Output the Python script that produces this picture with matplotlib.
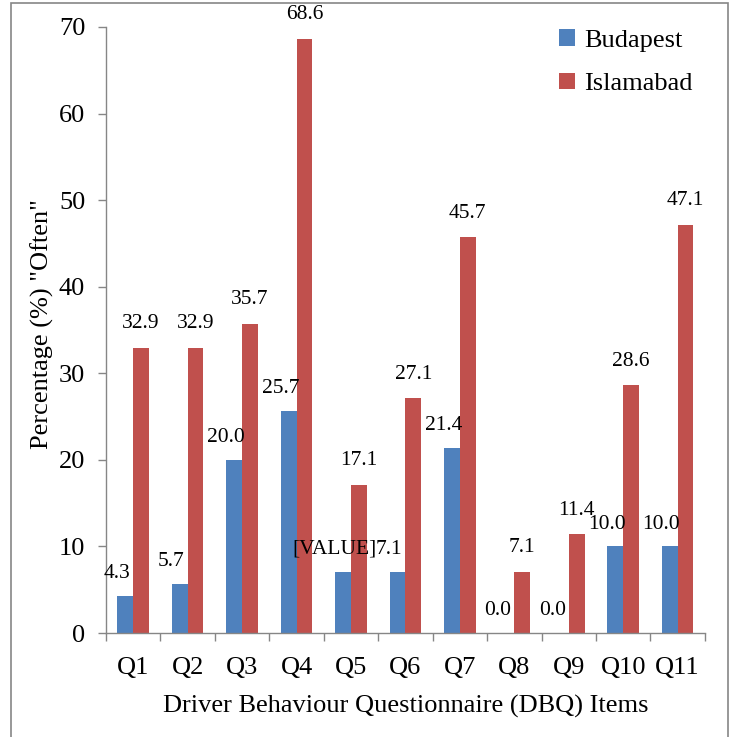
import numpy as np
import matplotlib.pyplot as plt
from matplotlib.patches import Rectangle

# data
items = ["Q1", "Q2", "Q3", "Q4", "Q5", "Q6", "Q7", "Q8", "Q9", "Q10", "Q11"]
budapest = [4.3, 5.7, 20.0, 25.7, 7.1, 7.1, 21.4, 0.0, 0.0, 10.0, 10.0]
islamabad = [32.9, 32.9, 35.7, 68.6, 17.1, 27.1, 45.7, 7.1, 11.4, 28.6, 47.1]
budapest_labels = ["4.3", "5.7", "20.0", "25.7", "[VALUE]", "7.1", "21.4", "0.0", "0.0", "10.0", "10.0"]
islamabad_labels = [f"{v:.1f}" for v in islamabad]

plt.rcParams['font.family'] = ['Liberation Serif', 'DejaVu Serif']

blue = '#4F81BD'
red = '#C0504D'
grey = '#868686'

fig = plt.figure(figsize=(7.35, 7.37), dpi=100)
ax = fig.add_axes([0.1442, 0.1411, 0.8148, 0.8223])

x = np.arange(len(items))
w = 0.29
ax.bar(x - w / 2, budapest, w, color=blue, label='Budapest')
ax.bar(x + w / 2, islamabad, w, color=red, label='Islamabad')

# data labels (Excel style, blue ones nudged left)
for xi, v, t in zip(x, budapest, budapest_labels):
    ax.annotate(t, (xi - w / 2, v), xytext=(-6, 16), textcoords='offset points',
                ha='center', va='center', fontsize=15.5)
for xi, v, t in zip(x, islamabad, islamabad_labels):
    ax.annotate(t, (xi + w / 2, v), xytext=(0, 17.5), textcoords='offset points',
                ha='center', va='center', fontsize=15.5)

ax.set_xlim(-0.5, len(items) - 0.5)
ax.set_ylim(0, 70)
ax.set_yticks(range(0, 71, 10))
ax.set_xticks(x)
ax.set_xticklabels(items)
ax.set_xticks(np.arange(-0.5, len(items)), minor=True)
ax.tick_params(axis='x', which='major', length=0, labelsize=19, pad=17)
ax.tick_params(axis='x', which='minor', length=6, color=grey, width=1)
ax.tick_params(axis='y', length=6, color=grey, width=1, labelsize=19, pad=9)

for s in ['top', 'right']:
    ax.spines[s].set_visible(False)
for s in ['left', 'bottom']:
    ax.spines[s].set_color(grey)
    ax.spines[s].set_linewidth(1)

ax.set_xlabel('Driver Behaviour Questionnaire (DBQ) Items', fontsize=19, labelpad=12)
ax.set_ylabel('Percentage (%) "Often"', fontsize=19)
ax.yaxis.set_label_coords(-0.086, 0.51)

ax.legend(loc='upper left', bbox_to_anchor=(0.728, 0.993), bbox_transform=fig.transFigure,
          frameon=False, prop={'family': 'Liberation Serif', 'size': 19},
          handlelength=0.6, handleheight=0.6, handletextpad=0.35, labelspacing=0.8)

# outer chart border (bottom edge runs off the image)
fig.patches.append(Rectangle((0.015, -0.05), 0.976, 1.046, transform=fig.transFigure,
                             fill=False, edgecolor=grey, linewidth=1.2))

fig.savefig('out.png', dpi=100)
